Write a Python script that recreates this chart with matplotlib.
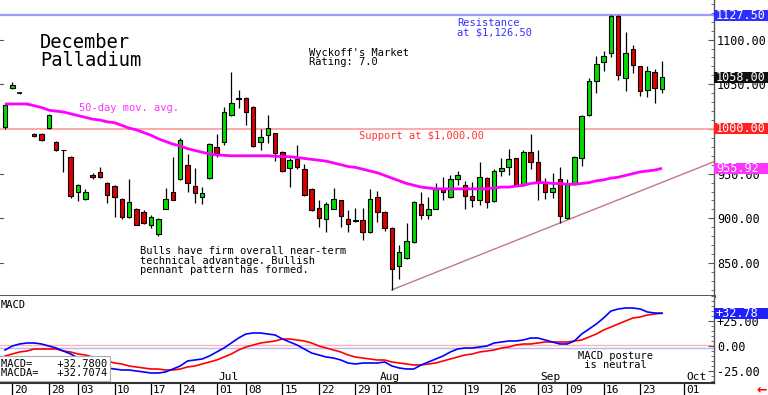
import numpy as np
import pandas as pd
import matplotlib
matplotlib.use('Agg')
import matplotlib.pyplot as plt
from matplotlib.patches import Rectangle
from matplotlib.transforms import blended_transform_factory
from matplotlib.ticker import MultipleLocator, FixedLocator

# ---------------- data ----------------
holidays = ['2024-05-27', '2024-06-19', '2024-07-04', '2024-09-02']
opens = [1002, 1046, 1040, 1028, 994, 994, 1001, 985, 977, 969,
         930, 922, 949, 952, 940, 936, 922, 901, 911, 907,
         893, 883, 911, 929, 944, 960, 936, 924, 945, 980,
         985, 1016, 1035, 1035, 1025, 985, 993, 995, 974, 956,
         966, 955, 933, 912, 899, 911, 920, 899, 897, 898,
         885, 924, 907, 889, 847, 856, 873, 916, 904, 911,
         934, 924, 944, 937, 925, 921, 945, 919, 953, 958,
         967, 937, 974, 963, 940, 929, 944, 900, 939, 967,
         1016, 1054, 1075, 1085, 1126, 1057, 1090, 1070, 1044, 1064,
         1045]
highs = [1029, 1052, 1041, 1029, 995, 995, 1017, 986, 977, 970,
         938, 933, 951, 957, 941, 937, 923, 944, 912, 909,
         904, 900, 934, 969, 990, 972, 956, 935, 984, 994,
         1025, 1064, 1044, 1036, 1026, 1000, 1016, 996, 975, 967,
         982, 961, 934, 921, 918, 934, 921, 909, 912, 912,
         933, 931, 908, 890, 870, 895, 919, 929, 924, 939,
         946, 949, 953, 942, 941, 963, 946, 955, 967, 978,
         968, 976, 994, 976, 945, 951, 957, 944, 970, 1016,
         1057, 1082, 1087, 1127.5, 1127.5, 1108, 1094, 1071, 1070, 1067,
         1076]
lows = [1000, 1045, 1039, 1027, 991, 987, 1000, 975, 952, 923,
        919, 921, 944, 945, 917, 901, 899, 900, 892, 894,
        889, 880, 910, 920, 943, 929, 917, 916, 944, 969,
        982, 1015, 1024, 1004, 980, 977, 984, 964, 952, 935,
        955, 925, 908, 890, 885, 910, 890, 885, 896, 876,
        884, 896, 886, 820, 832, 855, 872, 899, 899, 910,
        920, 923, 937, 910, 913, 915, 912, 918, 947, 948,
        936, 936, 955, 921, 922, 923, 895, 899, 937, 959,
        1015, 1040, 1065, 1080, 1055, 1043, 1063, 1037, 1036, 1029,
        1040]
closes = [1027, 1049, 1040, 1028, 992, 988, 1016, 976, 976, 925,
          937, 929, 946, 946, 926, 924, 901, 918, 893, 895,
          902, 899, 922, 921, 988, 939, 928, 928, 983, 973,
          1019, 1029, 1034, 1019, 981, 991, 1001, 973, 953, 965,
          957, 926, 909, 900, 916, 922, 903, 894, 898, 885,
          922, 907, 889, 843, 862, 875, 918, 904, 911, 934,
          929, 944, 948, 925, 921, 946, 918, 953, 956, 966,
          937, 974, 963, 940, 929, 934, 903, 939, 969, 1015,
          1054, 1073, 1082, 1126, 1060, 1085, 1072, 1042, 1065, 1046,
          1058]
ma50 = [1028, 1028, 1028, 1028, 1026, 1024, 1021, 1020, 1019, 1017,
        1015, 1013, 1011, 1010, 1008, 1007, 1004, 1001, 999, 996,
        993, 989, 986, 983, 981, 978, 976, 974, 972, 971,
        970.5, 970, 970, 970, 970, 970, 970, 969.5, 969, 969,
        968, 967, 966, 965, 964, 962, 960, 958, 957, 955,
        953, 951, 948, 945, 942, 939, 937, 935, 934, 933,
        933, 933, 933, 933, 933, 933, 933, 934, 935, 935,
        936, 937, 939, 940, 940, 939, 939, 938, 938, 939,
        940, 942, 943, 945, 946, 948, 950, 952, 953, 954,
        955.92]
macd = [-4, 0, 2, 3, 3, 2, 0, -2, -5, -8,
        -12, -15, -18, -20, -22, -23, -24, -24, -25, -26,
        -27, -27, -26, -23, -20, -15, -14, -13, -10, -6,
        -2, 3, 8, 12, 13, 13, 12, 11, 7, 4,
        1, -3, -7, -9, -11, -12, -14, -17, -18, -17,
        -17, -17, -16, -20, -22, -23, -23, -19, -16, -13,
        -10, -6, -3, -2, -2, -1, 0, 3, 4, 5,
        5, 6, 8, 8, 6, 4, 2, 2, 5, 12,
        17, 22, 28, 35, 37, 38, 38, 37, 34, 33,
        32.78]
signal = [-10, -8, -6, -5, -3, -3, -3, -3, -5, -6,
          -8, -9, -11, -14, -15, -17, -18, -20, -21, -22,
          -23, -23, -24, -24, -23, -21, -20, -18, -16, -14,
          -11, -8, -4, -1, 1, 3, 4, 5, 7, 7,
          6, 5, 3, 0, -2, -4, -6, -9, -11, -12,
          -13, -14, -14, -16, -17, -18, -19, -19, -18, -17,
          -15, -13, -11, -9, -8, -6, -5, -4, -2, -1,
          1, 2, 2, 3, 4, 4, 4, 4, 5, 6,
          9, 12, 16, 19, 22, 25, 28, 29, 31, 32,
          32.7074]
trend_points = [('2024-08-05', 820), ('2024-09-09', 898)]
resistance = 1127.5
support = 1000.0
last_close = 1058.0
tick_dates = ['2024-05-20', '2024-05-28', '2024-06-03', '2024-06-10', '2024-06-17',
              '2024-06-24', '2024-07-01', '2024-07-08', '2024-07-15', '2024-07-22',
              '2024-07-29', '2024-08-01', '2024-08-12', '2024-08-19', '2024-08-26',
              '2024-09-03', '2024-09-09', '2024-09-16', '2024-09-23', '2024-10-01']
tick_labels = ['20', '28', '03', '10', '17', '24', '01', '08', '15', '22',
               '29', '01', '12', '19', '26', '03', '09', '16', '23', '01']
month_dates = ['2024-07-01', '2024-08-01', '2024-09-03', '2024-10-01']
month_labels = ['Jul', 'Aug', 'Sep', 'Oct']

# trading-day index
days = pd.bdate_range('2024-05-17', '2024-10-10')
days = days[~days.isin(pd.to_datetime(holidays))]
pos = {d.strftime('%Y-%m-%d'): i for i, d in enumerate(days)}

# ---------------- figure ----------------
W, H = 768, 395
fig = plt.figure(figsize=(7.68, 3.95), dpi=100)
fig.patch.set_facecolor('white')
def fx(x): return x / W
def fy(y): return 1 - y / H

MONO = 'DejaVu Sans Mono'
ax = fig.add_axes([0, fy(296), fx(714), fy(0) - fy(296)])
axm = fig.add_axes([0, fy(383), fx(714), fy(296) - fy(383)])

n = len(opens)
xs = np.arange(n)
o = np.array(opens, float); c = np.array(closes, float)
h = np.array(highs, float); l = np.array(lows, float)

ax.vlines(xs, l, h, color='black', lw=0.9, zorder=3)
bw = 0.62
for i in range(n):
    if abs(c[i] - o[i]) < 0.6:
        ax.hlines(o[i], i - bw / 2, i + bw / 2, color='black', lw=1.2, zorder=4)
        continue
    col = '#00dd00' if c[i] > o[i] else '#dd0000'
    ax.bar(i, abs(c[i] - o[i]), bottom=min(o[i], c[i]), width=bw,
           color=col, edgecolor='black', lw=0.8, zorder=4)

ax.axhline(resistance, color='#9a9aff', lw=1.6, zorder=2)
ax.axhline(support, color='#ff9a9a', lw=1.2, zorder=2)
ax.plot(xs, ma50, color='#ff00ff', lw=2.0, zorder=5, solid_capstyle='butt')

(t0, p0), (t1, p1) = trend_points
i0, i1 = pos[t0], pos[t1]
slope = (p1 - p0) / (i1 - i0)
xr = 97.2
ax.plot([i0, xr], [p0, p0 + slope * (xr - i0)], color='#c07890', lw=1.0, zorder=2)

XL = (-0.685, 97.12)
ax.set_xlim(*XL)
ax.set_ylim(813.1, 1144.3)
axm.set_xlim(*XL)
axm.set_ylim(-37, 50)

for a in (ax, axm):
    a.spines['left'].set_visible(False)
    a.spines['top'].set_visible(False)
    a.spines['right'].set_color('#555555')
    a.spines['right'].set_linewidth(1.0)
    a.yaxis.tick_right()
    a.tick_params(axis='y', which='both', direction='in', colors='#555555',
                  labelcolor='black', labelsize=8.5)
    for lab in a.get_yticklabels():
        lab.set_family(MONO)
ax.spines['bottom'].set_color('#444444')
ax.spines['bottom'].set_linewidth(2.0)
axm.spines['bottom'].set_color('#333333')
axm.spines['bottom'].set_linewidth(1.5)

ax.yaxis.set_major_locator(FixedLocator([850, 900, 950, 1000, 1050, 1100]))
ax.yaxis.set_minor_locator(MultipleLocator(10))
ax.set_yticklabels(['850.00', '900.00', '950.00', '1000.00', '1050.00', '1100.00'],
                   family=MONO, fontsize=8.5)
ax.tick_params(axis='y', which='major', length=4, pad=2)
ax.tick_params(axis='y', which='minor', length=2)
ax.set_xticks([])

# left small ticks
bl = blended_transform_factory(ax.transAxes, ax.transData)
for v in [850, 900, 950, 1050, 1100]:
    ax.plot([0, 0.004], [v, v], color='#555555', lw=0.8, transform=bl, clip_on=False)

# MACD panel
axm.axhline(1.5, color='#ffb4b4', lw=1.0, zorder=1)
axm.axhline(-1.5, color='#b4b4ff', lw=1.0, zorder=1)
axm.plot(xs, signal, color='#ff0000', lw=1.2, zorder=3)
axm.plot(xs, macd, color='#0000ff', lw=1.2, zorder=4)
axm.yaxis.set_major_locator(FixedLocator([-25, 0, 25]))
axm.yaxis.set_minor_locator(MultipleLocator(5))
axm.set_yticklabels(['-25.00', '0.00', '+25.00'], family=MONO, fontsize=8.5)
axm.tick_params(axis='y', which='major', length=4, pad=2)
axm.tick_params(axis='y', which='minor', length=2)

# bottom date ticks and labels
tpos = [pos[d] for d in tick_dates]
axm.set_xticks(tpos)
axm.set_xticklabels([])
axm.tick_params(axis='x', direction='out', length=9, width=0.9, color='black')
for p, lab in zip(tpos, tick_labels):
    axm.annotate(lab, xy=(p, 0), xycoords=('data', 'axes fraction'),
                 xytext=(1.5, -1.2), textcoords='offset points', ha='left', va='top',
                 family=MONO, fontsize=8, color='black', annotation_clip=False)
for d, lab in zip(month_dates, month_labels):
    axm.annotate(lab, xy=(pos[d], 0), xycoords=('data', 'axes fraction'),
                 xytext=(1.5, 0.8), textcoords='offset points', ha='left', va='bottom',
                 family=MONO, fontsize=8, color='black', annotation_clip=False)

# right-side value boxes
def value_box(a, yval, text, face, hgt):
    tr = blended_transform_factory(a.transAxes, a.transData)
    a.add_patch(Rectangle((1.0, yval - hgt / 2), 54 / 714, hgt, transform=tr,
                          facecolor=face, edgecolor='none', clip_on=False, zorder=10))
    a.text(1.0 + 2 / 714, yval, text, transform=tr, ha='left', va='center',
           family=MONO, fontsize=8.5, color='white', zorder=11, clip_on=False)

value_box(ax, resistance, '1127.50', '#2e2eff', 12.3)
value_box(ax, last_close, '%.2f' % last_close, '#111111', 12.3)
value_box(ax, support, '1000.00', '#ff2020', 12.3)
value_box(ax, ma50[-1], '%.2f' % ma50[-1], '#ff33ff', 12.3)
value_box(axm, macd[-1], '+%.2f' % macd[-1], '#2020ff', 11)

# annotations
fig.text(fx(40), fy(33), 'December\nPalladium', family=MONO, fontsize=13.5,
         va='top', ha='left', linespacing=0.92, color='black')
fig.text(fx(309), fy(48), "Wyckoff's Market\nRating: 7.0", family=MONO, fontsize=7.5,
         va='top', ha='left', linespacing=0.92, color='black')
fig.text(fx(457), fy(18), 'Resistance\nat $1,126.50', family=MONO, fontsize=7.5,
         va='top', ha='left', linespacing=0.92, color='#3333ff')
fig.text(fx(79), fy(103), '50-day mov. avg.', family=MONO, fontsize=7.5,
         va='top', ha='left', color='#ff33ff')
fig.text(fx(359), fy(131), 'Support at $1,000.00', family=MONO, fontsize=7.5,
         va='top', ha='left', color='#ff3333')
fig.text(fx(140), fy(246),
         'Bulls have firm overall near-term\ntechnical advantage. Bullish\npennant pattern has formed.',
         family=MONO, fontsize=7.5, va='top', ha='left', linespacing=0.95, color='black')
fig.text(fx(578), fy(351), 'MACD posture\n is neutral', family=MONO, fontsize=7.5,
         va='top', ha='left', linespacing=0.92, color='black')
fig.text(fx(1), fy(300), 'MACD', family=MONO, fontsize=7.5, va='top', ha='left', color='black')
fig.text(fx(1), fy(359), 'MACD=    +%.4f\nMACDA=   +%.4f' % (32.78, signal[-1]),
         family=MONO, fontsize=7.5, va='top', ha='left', linespacing=0.92, color='black',
         bbox=dict(boxstyle='square,pad=0.25', facecolor='white', edgecolor='#aaaaaa', lw=0.8),
         zorder=20)
fig.text(fx(756), fy(390), '\u2190', family='DejaVu Sans', fontsize=9, fontweight='bold',
         color='#ff0000', va='center', ha='left')

fig.savefig('out.png', dpi=100)
